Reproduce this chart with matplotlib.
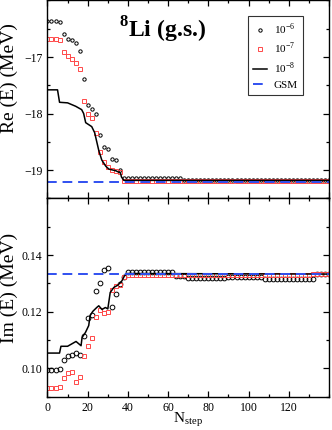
import matplotlib
matplotlib.use("Agg")
import matplotlib.pyplot as plt
from matplotlib.ticker import MultipleLocator
import numpy as np

plt.rcParams['font.family'] = ['Liberation Serif', 'DejaVu Serif']
plt.rcParams['mathtext.fontset'] = 'custom'
plt.rcParams['mathtext.rm'] = 'Liberation Serif'
plt.rcParams['mathtext.bf'] = 'Liberation Serif:bold'

# step grid for the marker series (every 2nd step)
n_steps = np.arange(0, 141, 2)

# Re(E) in MeV
re_e6 = ([-16.36, -16.36, -16.36, -16.38, -16.59, -16.68, -16.70, -16.75, -16.89, -17.39,
          -17.84, -17.91, -18.00, -18.38, -18.59, -18.63, -18.81, -18.82, -18.99]
         + [-19.14] * 15 + [-19.18] * 37)
re_e7 = ([-16.68, -16.68, -16.68, -16.70, -16.91, -16.99, -17.04, -17.10, -17.22, -17.78,
          -18.01, -18.07, -18.35, -18.68, -18.86, -18.94, -18.99, -19.01, -19.04]
         + [-19.19] * 52)
re_e8_n = [0, 5, 6, 10, 14, 17, 18, 19, 22, 23.5, 24, 25.5, 27, 29, 30.5, 34, 36.3, 36.8, 38, 140]
re_e8 = [-17.58, -17.58, -17.80, -17.81, -17.87, -17.93, -18.00, -18.16, -18.23, -18.34,
         -18.42, -18.65, -18.82, -18.93, -18.98, -19.01, -19.05, -19.12, -19.18, -19.18]
re_gsm = -19.2

# Im(E) in MeV
im_e6 = ([0.0995, 0.0995, 0.0995, 0.0998, 0.1030, 0.1042, 0.1047, 0.1054, 0.1047, 0.1115,
          0.1179, 0.1189, 0.1274, 0.1301, 0.1348, 0.1354, 0.1218, 0.1262, 0.1298, 0.1323]
         + [0.1342] * 12 + [0.1327] * 3 + [0.1318] * 10 + [0.1323] * 9
         + [0.1316] * 13 + [0.1333] * 4)
im_e7 = ([0.0931, 0.0931, 0.0931, 0.0935, 0.0966, 0.0982, 0.0986, 0.0951, 0.0970, 0.1045,
          0.1078, 0.1106, 0.1182, 0.1207, 0.1194, 0.1198, 0.1277, 0.1292, 0.1294, 0.1323]
         + [0.1328] * 11 + [0.1330] * 35 + [0.1333] * 5)
im_e8_n = [0, 6, 6.7, 10, 14.2, 16.7, 17.2, 18.9, 20.5, 21.2, 22.5, 24.5, 25.5, 27.1, 28.8,
           30, 31.2, 33, 35, 37, 38.3, 39.7, 140]
im_e8 = [0.1054, 0.1054, 0.1078, 0.1078, 0.1095, 0.1080, 0.1109, 0.1127, 0.1151, 0.1186,
         0.1201, 0.1215, 0.1221, 0.1208, 0.1215, 0.1210, 0.1268, 0.1286, 0.1294, 0.1309,
         0.1327, 0.1335, 0.1333]
im_gsm = 0.1335

labels = [r'10$^{-6}$', r'10$^{-7}$', r'10$^{-8}$', 'GSM']
red = '#ff4848'
blue = '#3050f0'

fig = plt.figure(figsize=(3.32, 4.30), dpi=100)
ax1 = fig.add_axes([0.143, 0.5384, 0.848, 0.4606])
ax2 = fig.add_axes([0.143, 0.0775, 0.848, 0.4609])


def draw(ax, y6, y7, n8, y8, gsm, msize):
    ax.plot(n_steps, y6, 'o', ms=msize, mfc='none', mec='black', mew=0.7, label=labels[0])
    ax.plot(n_steps, y7, 's', ms=2.6, mfc='none', mec=red, mew=0.7, label=labels[1])
    ax.plot(n8, y8, '-', color='black', lw=1.1, label=labels[2])
    ax.plot([0, 140], [gsm, gsm], '--', color=blue, lw=1.4, dashes=(5, 3), label=labels[3])
    ax.set_xlim(0, 140)
    ax.xaxis.set_major_locator(MultipleLocator(20))
    ax.xaxis.set_minor_locator(MultipleLocator(10))
    ax.tick_params(which='both', direction='in', top=True, right=True, labelsize=8.5, width=0.9)
    ax.tick_params(which='major', length=4.5)
    ax.tick_params(which='minor', length=2.5)
    for s in ax.spines.values():
        s.set_linewidth(1.0)


draw(ax1, re_e6, re_e7, re_e8_n, re_e8, re_gsm, 2.4)
ax1.set_ylim(-19.5, -16.0)
ax1.set_yticks([-19, -18, -17])
ax1.yaxis.set_minor_locator(MultipleLocator(0.5))
ax1.tick_params(labelbottom=False)
ax1.set_ylabel('Re (E) (MeV)', fontsize=14)
ax1.yaxis.set_label_coords(-0.105, 0.61)
ax1.text(0.41, 0.85, r'$^{\mathbf{8}}$Li (g.s.)', transform=ax1.transAxes,
         fontsize=17, fontweight='bold', ha='center', va='center')
leg = ax1.legend(loc='upper right', bbox_to_anchor=(0.908, 0.92), fontsize=8,
                 frameon=True, fancybox=False, edgecolor='black', handlelength=1.3,
                 handletextpad=0.6, borderpad=0.45, labelspacing=0.4, borderaxespad=0)
leg.get_frame().set_linewidth(0.8)

draw(ax2, im_e6, im_e7, im_e8_n, im_e8, im_gsm, 3.4)
ax2.set_ylim(0.09, 0.16)
ax2.set_yticks([0.10, 0.12, 0.14])
ax2.set_xticks([0, 20, 40, 60, 80, 100, 120])
ax2.yaxis.set_minor_locator(MultipleLocator(0.01))
ax2.set_yticklabels(['0.10', '0.12', '0.14'])
ax2.set_ylabel('Im (E) (MeV)', fontsize=14)
ax2.yaxis.set_label_coords(-0.105, 0.55)
ax2.set_xlabel(r'N$_{\mathrm{step}}$', fontsize=11)
ax2.xaxis.set_label_coords(0.5, -0.068)

fig.savefig('out.png', dpi=100)
